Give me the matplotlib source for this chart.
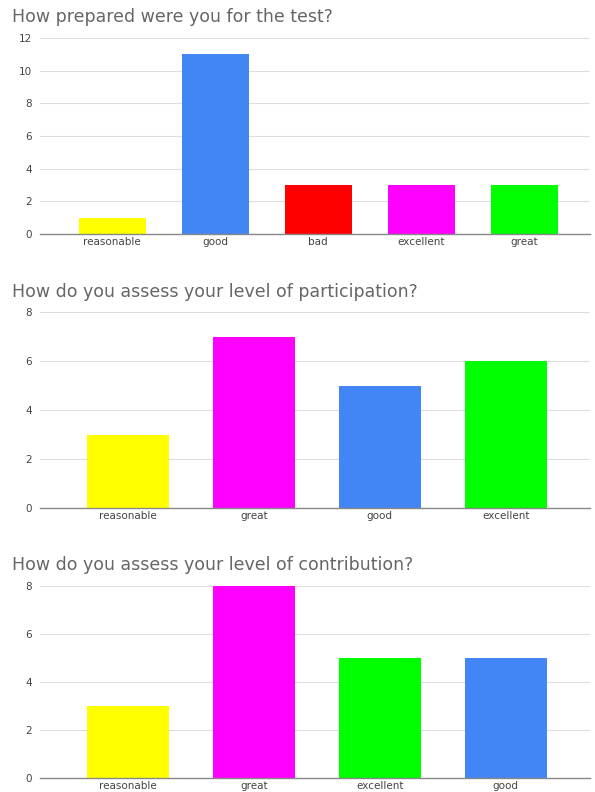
import matplotlib.pyplot as plt

plt.rcParams['font.family'] = ['DejaVu Sans']

# Data for the three survey questions
titles = ['How prepared were you for the test?',
          'How do you assess your level of participation?',
          'How do you assess your level of contribution?']

cats1 = ['reasonable', 'good', 'bad', 'excellent', 'great']
vals1 = [1, 11, 3, 3, 3]
cols1 = ['#ffff00', '#4285f4', '#ff0000', '#ff00ff', '#00ff00']

cats2 = ['reasonable', 'great', 'good', 'excellent']
vals2 = [3, 7, 5, 6]
cols2 = ['#ffff00', '#ff00ff', '#4285f4', '#00ff00']

cats3 = ['reasonable', 'great', 'excellent', 'good']
vals3 = [3, 8, 5, 5]
cols3 = ['#ffff00', '#ff00ff', '#00ff00', '#4285f4']

ticks1 = [0, 2, 4, 6, 8, 10, 12]
ticks2 = [0, 2, 4, 6, 8]
ticks3 = [0, 2, 4, 6, 8]

W, H = 595, 792
fig = plt.figure(figsize=(W / 100, H / 100), dpi=100)

# (left px, top px, right px, bottom px), title y px
panels = [
    (cats1, vals1, cols1, ticks1, titles[0], (40, 38, 590, 234), 17, (-0.70, 4.64)),
    (cats2, vals2, cols2, ticks2, titles[1], (40, 312, 590, 508), 292, (-0.70, 3.67)),
    (cats3, vals3, cols3, ticks3, titles[2], (40, 586, 590, 778), 565, (-0.70, 3.67)),
]

for cats, vals, cols, ticks, title, box, ty, xl in panels:
    l, t, r, b = box
    ax = fig.add_axes([l / W, 1 - b / H, (r - l) / W, (b - t) / H])
    x = range(len(cats))
    ax.bar(x, vals, width=0.65, color=cols, zorder=3)
    ax.set_xlim(*xl)
    ax.set_ylim(0, ticks[-1])
    ax.set_yticks(ticks)
    ax.set_xticks(list(x))
    ax.set_xticklabels(cats)
    ax.tick_params(axis='both', length=0, labelsize=7.5, colors='#444444')
    ax.tick_params(axis='x', pad=2)
    ax.tick_params(axis='y', pad=6)
    ax.grid(axis='y', color='#dddddd', linewidth=0.8, zorder=0)
    for s in ['top', 'right', 'left']:
        ax.spines[s].set_visible(False)
    ax.spines['bottom'].set_color('#888888')
    ax.spines['bottom'].set_linewidth(1.0)
    ax.spines['bottom'].set_zorder(4)
    fig.text(12 / W, 1 - ty / H, title, fontsize=12.5,
             color='#666666', va='center', ha='left')

fig.savefig('out.png', dpi=100)
